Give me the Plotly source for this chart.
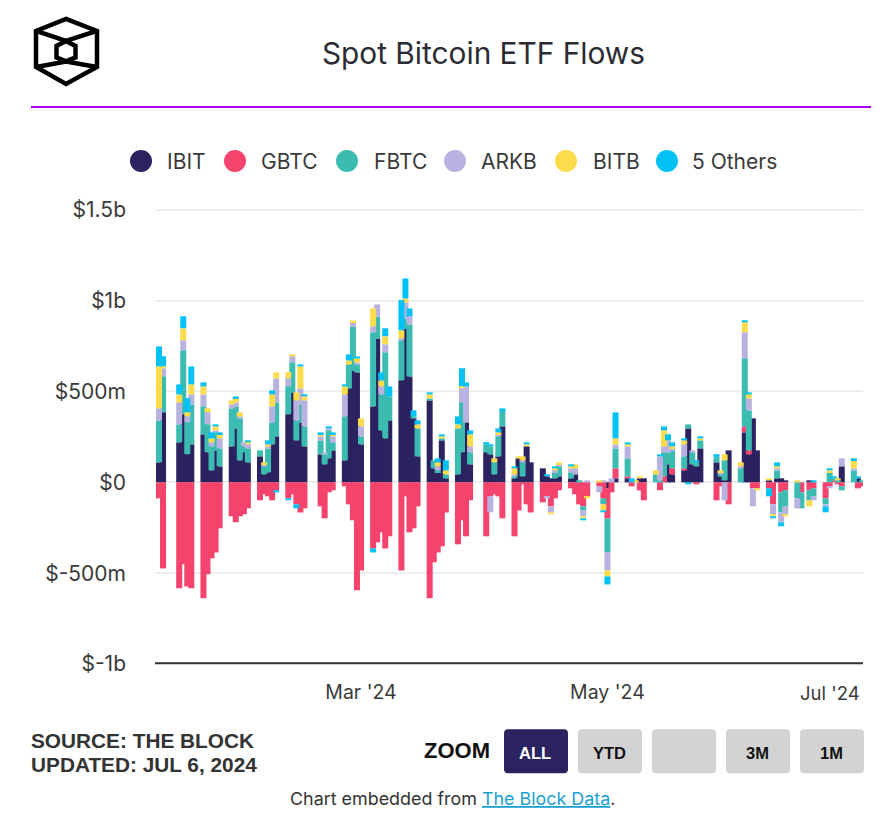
import plotly.graph_objects as go

dates = [
    "2024-01-11", "2024-01-12",
    "2024-01-16", "2024-01-17", "2024-01-18", "2024-01-19",
    "2024-01-22", "2024-01-23", "2024-01-24", "2024-01-25", "2024-01-26",
    "2024-01-29", "2024-01-30", "2024-01-31", "2024-02-01", "2024-02-02",
    "2024-02-05", "2024-02-06", "2024-02-07", "2024-02-08", "2024-02-09",
    "2024-02-12", "2024-02-13", "2024-02-14", "2024-02-15", "2024-02-16",
    "2024-02-20", "2024-02-21", "2024-02-22", "2024-02-23",
    "2024-02-26", "2024-02-27", "2024-02-28", "2024-02-29", "2024-03-01",
    "2024-03-04", "2024-03-05", "2024-03-06", "2024-03-07", "2024-03-08",
    "2024-03-11", "2024-03-12", "2024-03-13", "2024-03-14", "2024-03-15",
    "2024-03-18", "2024-03-19", "2024-03-20", "2024-03-21", "2024-03-22",
    "2024-03-25", "2024-03-26", "2024-03-27", "2024-03-28",
    "2024-04-01", "2024-04-02", "2024-04-03", "2024-04-04", "2024-04-05",
    "2024-04-08", "2024-04-09", "2024-04-10", "2024-04-11", "2024-04-12",
    "2024-04-15", "2024-04-16", "2024-04-17", "2024-04-18", "2024-04-19",
    "2024-04-22", "2024-04-23", "2024-04-24", "2024-04-25", "2024-04-26",
    "2024-04-29", "2024-04-30", "2024-05-01", "2024-05-02", "2024-05-03",
    "2024-05-06", "2024-05-07", "2024-05-08", "2024-05-09", "2024-05-10",
    "2024-05-13", "2024-05-14", "2024-05-15", "2024-05-16", "2024-05-17",
    "2024-05-20", "2024-05-21", "2024-05-22", "2024-05-23", "2024-05-24",
    "2024-05-28", "2024-05-29", "2024-05-30", "2024-05-31",
    "2024-06-03", "2024-06-04", "2024-06-05", "2024-06-06", "2024-06-07",
    "2024-06-10", "2024-06-11", "2024-06-12", "2024-06-13", "2024-06-14",
    "2024-06-17", "2024-06-18", "2024-06-20", "2024-06-21",
    "2024-06-24", "2024-06-25", "2024-06-26", "2024-06-27", "2024-06-28",
    "2024-07-01", "2024-07-02", "2024-07-03",
]

# flows in $m, one row per week
ibit = [
    110, 386,
    220, 375, 155, 209,
    264, 166, 66, 176, 88,
    198, 297, 121, 166, 110,
    143, 44, 55, 209, 253,
    375, 495, 231, 330, 198,
    154, 99, 132, 176,
    121, 517, 616, 605, 209,
    418, 792, 286, 242, 341,
    562, 847, 583, 352, 143,
    451, 77, 55, 231, 22,
    44, 166, 330, 99,
    166, 154, 44, 143, 308,
    22, 132, 33, 198, 110,
    77, 33, 22, 22, 33,
    22, 44, 0, 0, 0,
    0, 0, -33, 0, 22,
    22, 0, 0, 22, 22,
    0, 0, 0, 99, 44,
    66, 297, 99, 88, 187,
    110, 33, 11, 176,
    0, 275, 154, 352, 176,
    11, 0, 22, 22, 11,
    0, 0, 11, 0,
    0, 0, 0, 0, 88,
    0, 22, 0,
]
gbtc = [
    -88, -474,
    -583, -451, -573, -583,
    -638, -506, -418, -386, -253,
    -187, -220, -187, -176, -143,
    -99, -66, -77, -99, -44,
    -88, -66, -121, -166, -143,
    -132, -198, -55, -44,
    -22, -121, -209, -594, -485,
    -364, -330, -275, -364, -297,
    -485, -77, -275, -253, -132,
    -638, -440, -386, -352, -166,
    -341, -209, -297, -99,
    -297, -77, -66, -77, -198,
    -297, -155, -11, -121, -166,
    -110, -77, -132, -88, -44,
    -33, -66, -121, -132, -77,
    -22, -88, -166, -55, 55,
    11, -22, 0, -44, -99,
    0, -44, 33, 0, 33,
    11, 0, 0, -11, 0,
    -99, -22, 0, -121,
    0, 33, 22, -33, -33,
    -33, -121, 0, -55, -44,
    0, -55, -44, -33,
    -88, -22, 11, -11, -22,
    0, -33, -22,
]
fbtc = [
    231, 198,
    99, 352, 176, 220,
    154, 154, 132, 99, 99,
    209, 121, 231, 33, 77,
    33, 44, 132, 121, 187,
    154, 166, 110, 99, 110,
    77, 55, 154, 44,
    242, 132, 242, 44, 44,
    407, 121, 198, 474, 132,
    220, 55, 286, 11, 154,
    11, 44, 11, 11, 22,
    253, 275, 0, 66,
    44, 44, 66, 110, 88,
    11, 0, 77, 0, 0,
    0, 0, 0, 33, 55,
    33, 0, 11, -22, 0,
    0, -33, -187, 0, 110,
    99, 0, 0, 0, 0,
    44, 11, 132, 66, 99,
    66, 22, 66, 22, 44,
    30, 11, 110, 0,
    77, 375, 220, 0, 0,
    0, 0, 44, -110, -88,
    -88, -88, -55, -44,
    -33, 55, 11, 11, -22,
    66, 0, 11,
]
arkb = [
    66, 44,
    121, 55, 33, 55,
    66, 66, 22, 11, 55,
    22, 22, 11, 22, 22,
    0, 11, 11, 88, 132,
    44, 33, 110, 88, 143,
    22, 11, 11, 33,
    121, 0, 22, 11, 55,
    33, 66, 44, 44, 0,
    11, 88, 44, 0, 0,
    0, 0, 22, 0, 0,
    0, 77, 198, 33,
    0, -88, 0, 11, 0,
    11, 0, 11, 0, 0,
    0, -11, -33, 11, 11,
    22, 33, 0, -33, 11,
    -33, 11, -99, 22, 22,
    66, 0, 0, 0, 0,
    0, 132, 33, 66, 11,
    66, 0, 11, 0, 0,
    0, 11, -99, 0,
    11, 143, 66, -99, 0,
    0, -55, 11, -55, -44,
    -55, 0, 0, -22,
    -11, -11, 0, 0, 44,
    11, 0, 0,
]
bitb = [
    231, 11,
    44, 66, 22, 55,
    44, 22, 22, 22, 22,
    22, 22, 22, 0, 11,
    0, 11, 11, 66, 33,
    33, 11, 44, 121, 22,
    11, 0, 0, 11,
    44, 22, 11, 22, 44,
    99, 0, 33, 44, 0,
    44, 22, 0, 0, 22,
    22, 0, 22, 11, 22,
    22, 11, 0, 66,
    0, 0, 22, 11, 0,
    33, 11, 22, 11, 0,
    0, 0, -11, 11, 11,
    11, 22, 0, -11, -11,
    11, -33, -33, 0, 33,
    11, 0, 11, 11, 0,
    22, 0, 88, 0, 11,
    22, 0, 0, 0, 11,
    0, 11, 33, 0,
    22, 55, 22, 0, -11,
    11, -11, 11, 0, -11,
    11, 0, -33, 0,
    0, 11, 0, 11, 0,
    44, 0, 0,
]
others = [
    110, 55,
    55, 66, 77, 99,
    22, 0, 33, 11, 11,
    0, 11, 0, 0, 11,
    0, 0, 22, 22, -11,
    -11, 0, -22, 11, 11,
    11, 0, 11, 11,
    11, 33, 0, 11, 0,
    -22, 0, 44, 44, 55,
    166, 110, 44, 33, 22,
    11, 0, 22, 11, 55,
    44, 99, 22, 22,
    11, 11, 0, 22, 11,
    11, 0, 0, 11, 0,
    0, 11, 0, 11, 0,
    11, 0, 0, -11, 0,
    0, -11, -44, 0, 143,
    11, 22, 0, 0, 0,
    0, 11, 22, 33, 22,
    11, -11, 0, 11, 11,
    15, 0, 0, 0,
    0, 11, 11, 0, 0,
    -44, -11, 22, -22, 0,
    0, 0, 0, 11,
    -33, 11, 11, 0, 0,
    11, 11, 0,
]

series = [
    ("IBIT", ibit, "#2b2260"),
    ("GBTC", gbtc, "#f4436c"),
    ("FBTC", fbtc, "#3cbcb1"),
    ("ARKB", arkb, "#b8b2e0"),
    ("BITB", bitb, "#fddc4c"),
    ("5 Others", others, "#02c2f5"),
]

y_ticks = [-1000, -500, 0, 500, 1000, 1500]
y_labels = ["$-1b", "$-500m", "$0", "$500m", "$1b", "$1.5b"]
x_ticks = ["2024-03-01", "2024-05-01"]
x_labels = ["Mar '24", "May '24"]

W, H = 893, 823
# top of the range sits just over $1.5b, plotly drops a gridline right on the edge
LEFT, RIGHT, TOP, BOTTOM = 155, 863, 208, 663.8
Y_MAX = 1510
FONT = "Inter"
BAR_WIDTH = 128300000  # ms, wider than a day so neighbours overlap


def px(x):
    return (x - LEFT) / (RIGHT - LEFT)


def py(y):
    return (BOTTOM - y) / (BOTTOM - TOP)


def poly(points, close=False):
    d = "M" + " L".join(f"{px(a):.5f},{py(b):.5f}" for a, b in points)
    return d + (" Z" if close else "")


def rounded(x0, y0, x1, y1, r=4):
    return (
        f"M{px(x0 + r):.5f},{py(y0):.5f} L{px(x1 - r):.5f},{py(y0):.5f} "
        f"Q{px(x1):.5f},{py(y0):.5f} {px(x1):.5f},{py(y0 + r):.5f} "
        f"L{px(x1):.5f},{py(y1 - r):.5f} Q{px(x1):.5f},{py(y1):.5f} {px(x1 - r):.5f},{py(y1):.5f} "
        f"L{px(x0 + r):.5f},{py(y1):.5f} Q{px(x0):.5f},{py(y1):.5f} {px(x0):.5f},{py(y1 - r):.5f} "
        f"L{px(x0):.5f},{py(y0 + r):.5f} Q{px(x0):.5f},{py(y0):.5f} {px(x0 + r):.5f},{py(y0):.5f} Z"
    )


def label(x, y, text, size, color="#333333", anchor="center", family=FONT):
    return dict(
        xref="paper", yref="paper", x=px(x), y=py(y), text=text, showarrow=False,
        xanchor=anchor, yanchor="middle", align=anchor,
        font=dict(family=family, size=size, color=color),
    )


fig = go.Figure()
for name, values, color in series:
    fig.add_trace(go.Bar(x=dates, y=values, name=name, width=BAR_WIDTH,
                         marker=dict(color=color, line=dict(width=0)), showlegend=False))

shapes = []
annotations = []

# logo
logo_line = dict(color="black", width=4.5)
logo_paths = [
    poly([(66, 19), (97, 31), (97, 67), (66, 84), (36, 67), (36, 31)], close=True),
    poly([(66, 41), (75.5, 46), (75.5, 57.5), (66, 61.5), (56.5, 57.5), (56.5, 46)], close=True),
    poly([(36, 31), (66, 41), (97, 31)]),
    poly([(36, 67), (66, 61.5), (97, 67)]),
]
for d in logo_paths:
    shapes.append(dict(type="path", xref="paper", yref="paper", path=d, line=logo_line))

# purple rule under the title
shapes.append(dict(type="line", xref="paper", yref="paper", x0=px(31), x1=px(871),
                   y0=py(107), y1=py(107), line=dict(color="#a900f0", width=2)))
annotations.append(label(483, 53, "Spot Bitcoin ETF Flows", 29.8, "#2b2b33"))

# bottom axis line, drawn as a shape to sit exactly on the -1b row
shapes.append(dict(type="line", xref="paper", yref="paper", x0=0, x1=1,
                   y0=py(663), y1=py(663), line=dict(color="#333333", width=2)))

# legend
legend_dots = [141, 235, 347, 455, 566, 667]
legend_text = [165, 259, 372, 479, 591, 690]
for (name, _, color), cx, tx in zip(series, legend_dots, legend_text):
    shapes.append(dict(type="circle", xref="paper", yref="paper", x0=px(cx - 11), x1=px(cx + 11),
                       y0=py(172), y1=py(150), fillcolor=color, line=dict(width=0)))
    annotations.append(label(tx, 162, name, 21, "#3a3a3a", "left"))

# Jul label sits left of its tick so that it stays inside the chart
annotations.append(label(861.5, 693, "Jul '24", 18.5, "#3a3a3a", "right"))

# footer
annotations.append(label(29, 740, "<b>SOURCE: THE BLOCK</b>", 20.8, "#333333", "left", "Liberation Sans"))
annotations.append(label(29, 764, "<b>UPDATED: JUL 6, 2024</b>", 20.8, "#333333", "left", "Liberation Sans"))
annotations.append(label(457, 750, "<b>ZOOM</b>", 22, "#111111", "center", "Liberation Sans"))

buttons = [("ALL", 504), ("YTD", 578), ("", 652), ("3M", 726), ("1M", 800)]
for i, (text, x0) in enumerate(buttons):
    shapes.append(dict(type="path", xref="paper", yref="paper", path=rounded(x0, 729, x0 + 64, 773),
                       fillcolor="#2b2260" if i == 0 else "#d3d3d3", line=dict(width=0)))
    if text:
        annotations.append(label(x0 + 31, 752.5, f"<b>{text}</b>", 16.5,
                                 "white" if i == 0 else "#111111", "center", "Liberation Sans"))

annotations.append(label(452, 798.5,
                         "Chart embedded from <a href='https://www.theblock.co/data' "
                         "style='color:#1a9fd0'><u>The Block Data</u></a>.",
                         17.9, "#333333"))

fig.update_layout(
    width=W, height=H, barmode="relative", plot_bgcolor="white", paper_bgcolor="white",
    margin=dict(l=LEFT, r=W - RIGHT, t=TOP, b=H - BOTTOM, autoexpand=False),
    font=dict(family=FONT, color="#3a3a3a"),
    shapes=shapes, annotations=annotations, showlegend=False,
    xaxis=dict(type="date", range=["2024-01-10 00:15", "2024-07-03 06:15"],
               tickvals=x_ticks, ticktext=x_labels, tickfont=dict(size=19.5, color="#3a3a3a"),
               showgrid=False, zeroline=False, showline=False,
               ticks="", ticklabelstandoff=14),
    yaxis=dict(range=[-1000, Y_MAX], tickvals=y_ticks, ticktext=y_labels,
               tickfont=dict(size=21, color="#3a3a3a"), gridcolor="#eeeeee", gridwidth=2,
               zeroline=False, showline=False, ticks="", ticklabelstandoff=28),
)

fig.write_html("out.html", config=dict(displayModeBar=False),
               post_script="document.body.style.margin='0';document.body.style.overflow='hidden';")
